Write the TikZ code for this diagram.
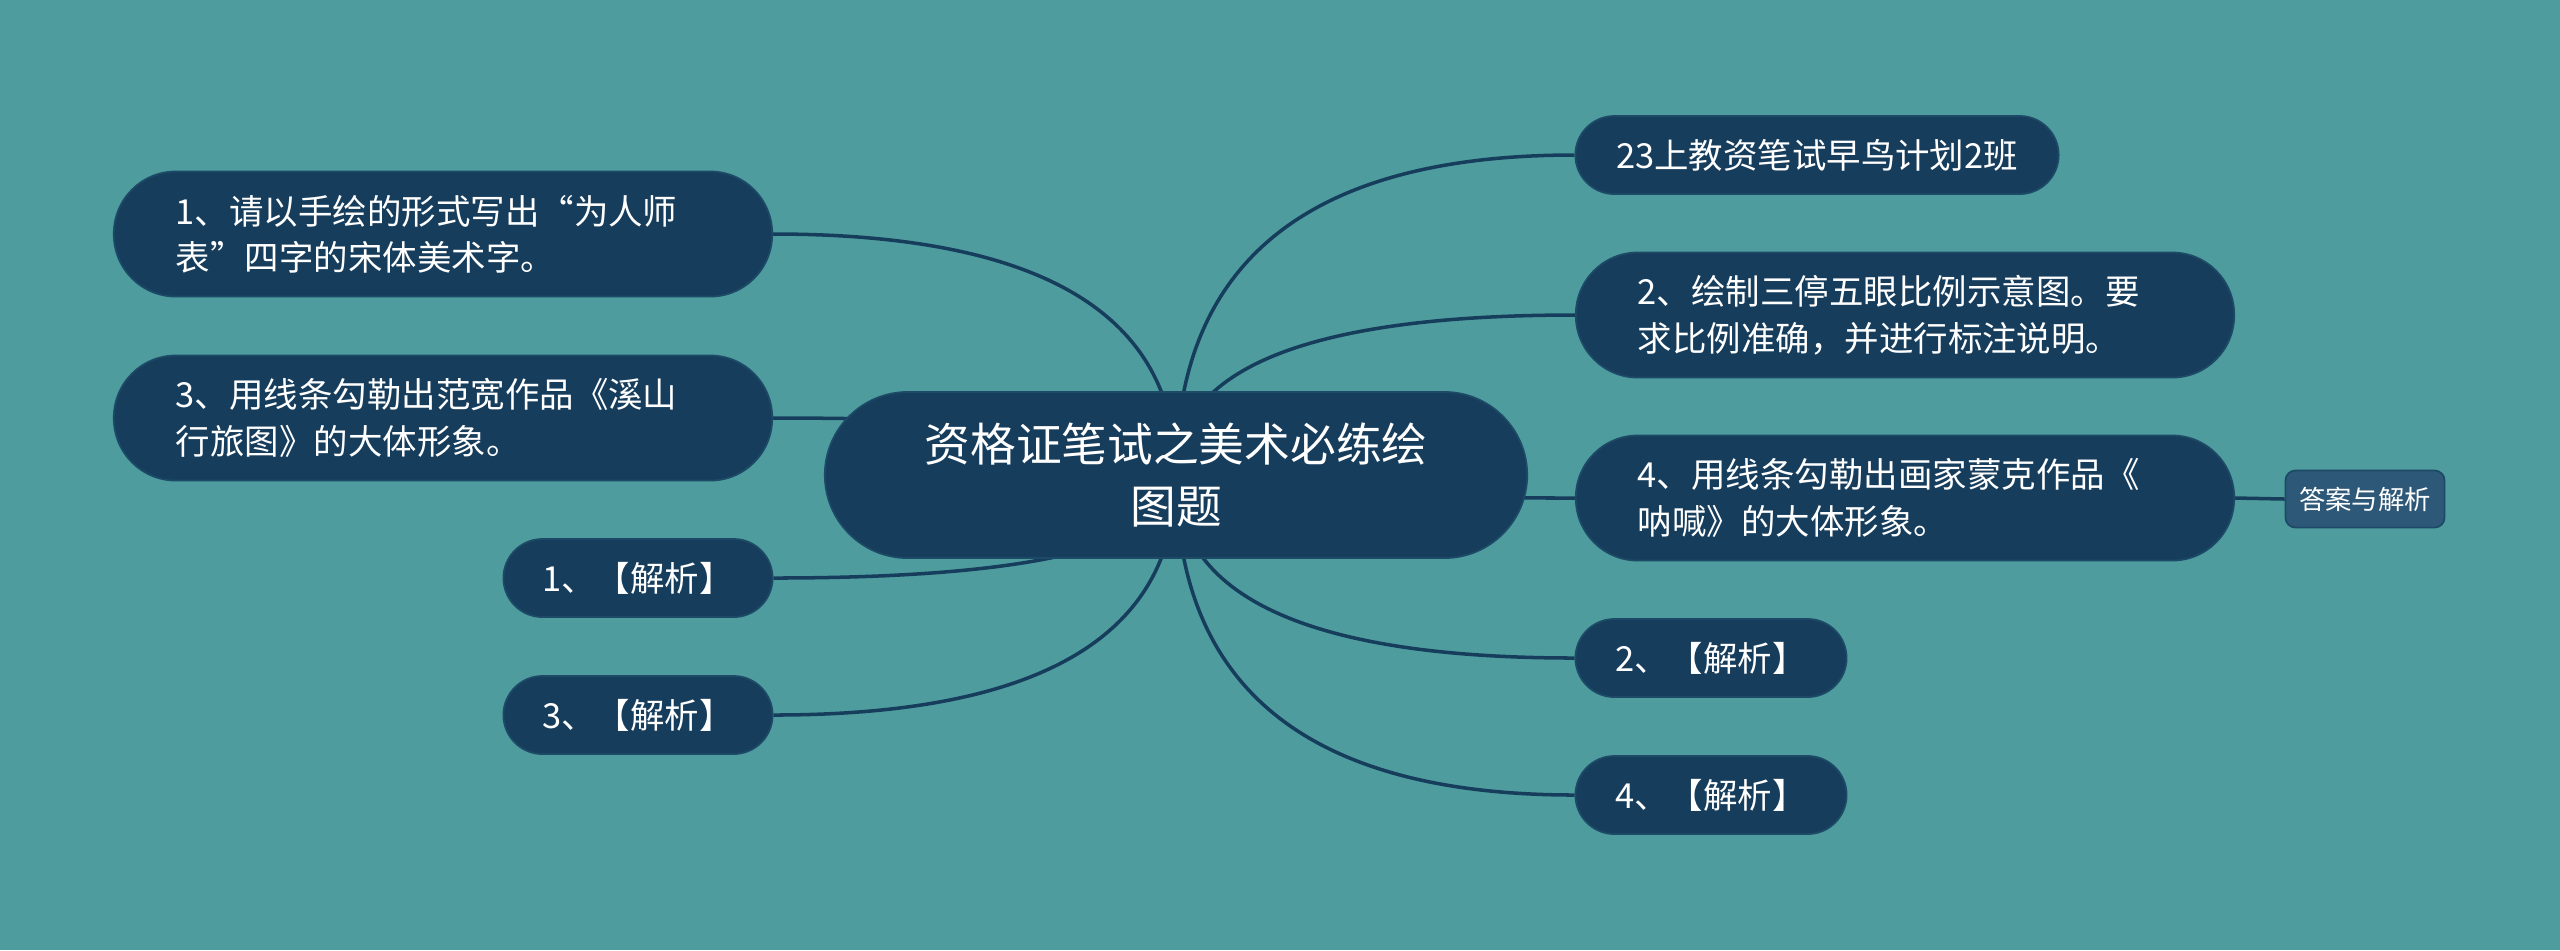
\documentclass[tikz,border=0pt]{standalone}
\usepackage{fontspec}
\setmainfont{Noto Sans CJK SC}
\usetikzlibrary{calc,backgrounds}
\pgfdeclarelayer{edges}
\pgfsetlayers{background,edges,main}
\definecolor{bgteal}{HTML}{4E9C9E}
\definecolor{navy}{HTML}{173D5C}
\definecolor{rimline}{HTML}{1D4A66}
\definecolor{ansblue}{HTML}{2E5877}

\begin{document}
\begin{tikzpicture}[x=0.01cm, y=-0.01cm,
	every node/.style={text=white, inner sep=0pt},
	topic/.style={fill=navy, draw=rimline, line width=0.5pt},
	pill/.style={topic, rounded corners=0.62cm, minimum height=1.25cm, minimum width=6.58cm, text width=5.34cm, align=left, font=\fontsize{9.8}{13.2}\selectfont},
	tag/.style={topic, rounded corners=0.39cm, minimum height=0.78cm, font=\fontsize{9.8}{13.2}\selectfont},
	branch/.style={navy, line width=1pt}]
	\useasboundingbox (0,0) rectangle (2560,950);
	\begin{pgfonlayer}{background}
		\fill[bgteal] (0,0) rectangle (2560,950);
	\end{pgfonlayer}
	% central topic
	\node[topic, rounded corners=0.83cm, minimum width=7.02cm, minimum height=1.66cm, align=center, font=\fontsize{13}{17.5}\selectfont] (root) at (1176,475) {资格证笔试之美术必练绘\\图题};
	% left side
	\node[pill] (l1) at (443,234) {1、请以手绘的形式写出“为人师\\表”四字的宋体美术字。};
	\node[pill] (l2) at (443,418) {3、用线条勾勒出范宽作品《溪山\\行旅图》的大体形象。};
	\node[tag, minimum width=2.69cm] (l3) at (638,578) {1、【解析】};
	\node[tag, minimum width=2.69cm] (l4) at (638,715) {3、【解析】};
	% right side
	\node[tag, minimum width=4.83cm] (r1) at (1817,155) {23上教资笔试早鸟计划2班};
	\node[pill] (r2) at (1905,315) {2、绘制三停五眼比例示意图。要\\求比例准确，并进行标注说明。};
	\node[pill] (r3) at (1905,498) {4、用线条勾勒出画家蒙克作品《\\呐喊》的大体形象。};
	\node[tag, minimum width=2.71cm] (r4) at (1711,658) {2、【解析】};
	\node[tag, minimum width=2.71cm] (r5) at (1711,795) {4、【解析】};
	\node[fill=ansblue, draw=rimline, line width=0.5pt, rounded corners=0.1cm, minimum width=1.59cm, minimum height=0.57cm, font=\fontsize{7.5}{9}\selectfont] (ans) at (2365,499) {答案与解析};
	% connectors
	\begin{pgfonlayer}{edges}
		\foreach \n in {l1,l2,l3,l4}
			\draw[branch] (root.center) .. controls ($(root.center)!.667!(root.center |- \n.east)$) and ($(\n.east)!.667!(root.center |- \n.east)$) .. (\n.east);
		\foreach \n in {r1,r2,r3,r4,r5}
			\draw[branch] (root.center) .. controls ($(root.center)!.667!(root.center |- \n.west)$) and ($(\n.west)!.667!(root.center |- \n.west)$) .. (\n.west);
		\draw[branch] (r3.east) -- (ans.west);
	\end{pgfonlayer}
\end{tikzpicture}
\end{document}
